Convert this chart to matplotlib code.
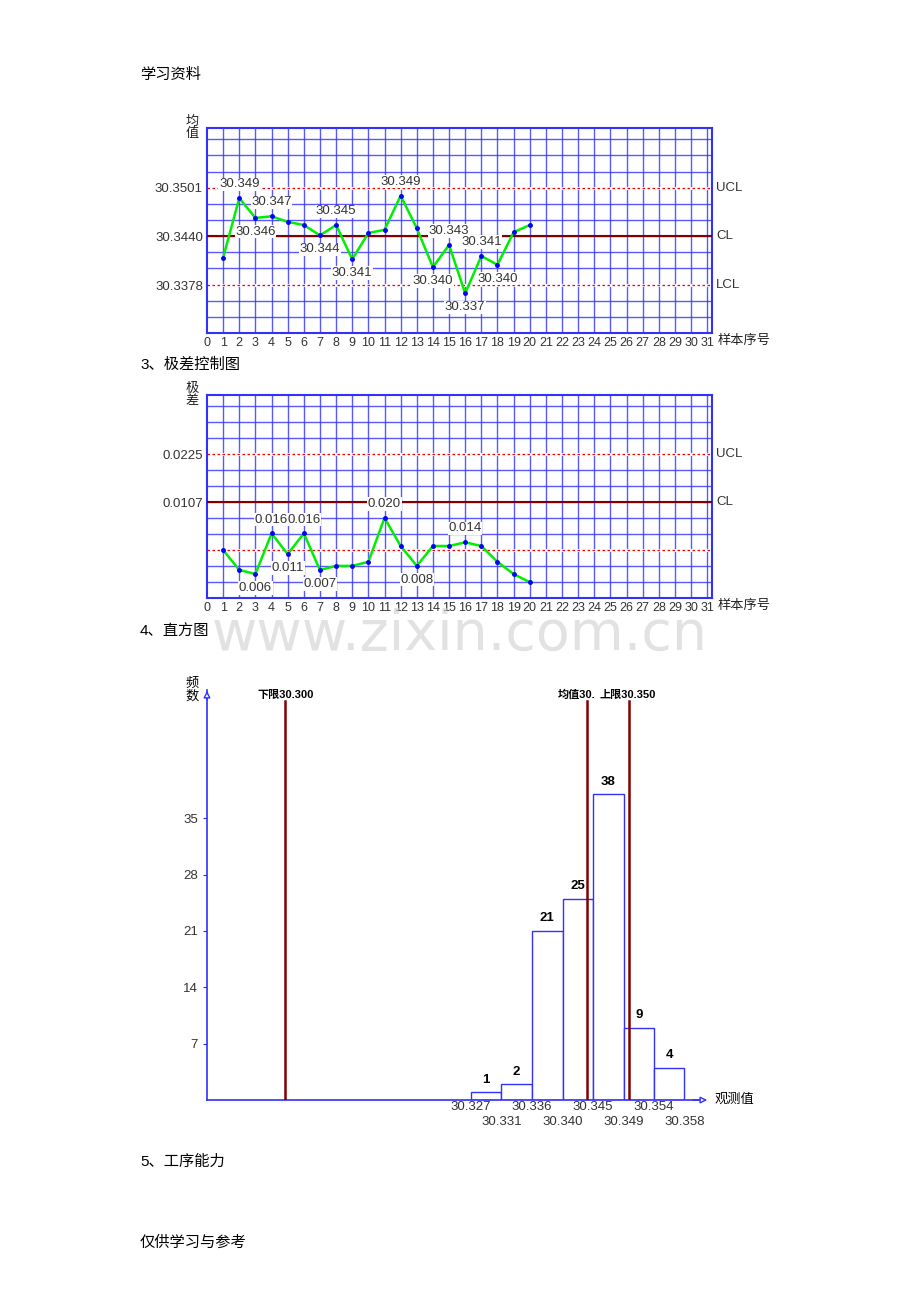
import matplotlib.pyplot as plt

plt.rcParams['font.family'] = ['Liberation Sans', 'Noto Sans CJK SC', 'DejaVu Sans']

# 均值控制图
xbar_ucl, xbar_cl, xbar_lcl = 30.3501, 30.3440, 30.3378
xbar = [30.3413, 30.3488, 30.3463, 30.3465, 30.3458, 30.3454, 30.3441, 30.3454, 30.3411, 30.3444,
        30.3448, 30.3491, 30.3450, 30.3401, 30.3429, 30.3368, 30.3415, 30.3404, 30.3445, 30.3454]
xbar_labels = {2: ('30.349', 1), 3: ('30.346', -1), 4: ('30.347', 1), 7: ('30.344', -1),
               8: ('30.345', 1), 9: ('30.341', -1), 12: ('30.349', 1), 14: ('30.340', -1),
               15: ('30.343', 1), 16: ('30.337', -1), 17: ('30.341', 1), 18: ('30.340', -1)}

# 极差控制图 (位置按图中坐标读取)
r_ucl, r_cl, r_lcl = 0.0225, 0.0107, -0.0011
r_vals = [-0.0011, -0.0060, -0.0070, 0.0030, -0.0021, 0.0030, -0.0060, -0.0050, -0.0050, -0.0040,
          0.0068, -0.0001, -0.0050, -0.0001, -0.0001, 0.0008, -0.0001, -0.0040, -0.0070, -0.0090]
r_labels = {3: ('0.006', -1), 4: ('0.016', 1), 5: ('0.011', -1), 6: ('0.016', 1),
            7: ('0.007', -1), 11: ('0.020', 1), 13: ('0.008', -1), 16: ('0.014', 1)}

# 直方图
edges = [30.327, 30.3314, 30.3358, 30.3403, 30.3447, 30.3492, 30.3536, 30.358]
edge_labels = ['30.327', '30.331', '30.336', '30.340', '30.345', '30.349', '30.354', '30.358']
counts = [1, 2, 21, 25, 38, 9, 4]
lower_limit, upper_limit, mean_val = 30.300, 30.350, 30.3439

BLUE = '#3030ff'
DARKRED = '#800000'

fig = plt.figure(figsize=(9.2, 13.02), dpi=100)


def control_chart(ax, vals, ucl, cl, lcl, labels, ytxt, ylab, show_lcl_label):
    step = (ucl - cl) / 3
    ax.set_xlim(0, 31.3)
    ax.set_ylim(cl - 6 * step, ucl + 3.7 * step)
    for k in range(-6, 10):
        ax.axhline(cl + k * step, color=BLUE, lw=1, alpha=0.8, zorder=1)
    for i in range(1, 32):
        ax.axvline(i, color=BLUE, lw=1, alpha=0.8, zorder=1)
    ax.axhline(ucl, color='white', lw=2, zorder=2)
    ax.axhline(ucl, color='red', lw=0.9, ls=(0, (2, 2)), zorder=3)
    ax.axhline(lcl, color='white', lw=2, zorder=2)
    ax.axhline(lcl, color='red', lw=0.9, ls=(0, (2, 2)), zorder=3)
    ax.axhline(cl, color=DARKRED, lw=1.5, zorder=3)
    xs = list(range(1, len(vals) + 1))
    ax.plot(xs, vals, color='#00ee00', lw=1.8, zorder=4)
    ax.plot(xs, vals, 'o', color='blue', ms=2.5, zorder=5)
    for i, (txt, d) in labels.items():
        ax.annotate(txt, (i, vals[i - 1]), xytext=(0, 10 * d), textcoords='offset points',
                    ha='center', va='center', fontsize=9.5, color='#333333', zorder=6,
                    bbox=dict(boxstyle='square,pad=0.05', fc='white', ec='none'))
    for s in ax.spines.values():
        s.set_color(BLUE)
        s.set_linewidth(1.5)
    ax.set_xticks(range(0, 32))
    ax.set_xticklabels([str(i) for i in range(0, 32)], fontsize=9, color='#333333')
    ax.tick_params(length=0, pad=3)
    ax.set_yticks(ytxt)
    ax.set_yticklabels([f'{v:.4f}' for v in ytxt], fontsize=9.5, color='#333333')
    names = [(ucl, 'UCL'), (cl, 'CL')] + ([(lcl, 'LCL')] if show_lcl_label else [])
    for v, n in names:
        ax.text(1.008, v, n, transform=ax.get_yaxis_transform(), va='center', fontsize=9.5, color='#333333')
    ax.text(1.01, -0.04, '样本序号', transform=ax.transAxes, va='center', fontsize=9.5, color='#222222')
    ax.text(-0.03, 1.0, ylab, transform=ax.transAxes, ha='center', va='center', fontsize=9.5,
            linespacing=1.0, color='#222222')


ax1 = fig.add_axes([0.225, 0.7442, 0.549, 0.1575])
control_chart(ax1, xbar, xbar_ucl, xbar_cl, xbar_lcl, xbar_labels,
              [xbar_lcl, xbar_cl, xbar_ucl], '均\n值', True)

ax2 = fig.add_axes([0.225, 0.5407, 0.549, 0.1559])
control_chart(ax2, r_vals, r_ucl, r_cl, r_lcl, r_labels, [r_cl, r_ucl], '极\n差', False)

# 直方图
ax3 = fig.add_axes([0.225, 0.1551, 0.536, 0.3149])
ax3.set_xlim(30.2886, 30.3603)
ax3.set_ylim(0, 50.9)
widths = [edges[i + 1] - edges[i] for i in range(len(counts))]
ax3.bar(edges[:-1], counts, width=widths, align='edge', fc='white', ec=BLUE, lw=1, zorder=2)
for x0, w, c in zip(edges[:-1], widths, counts):
    ax3.text(x0 + w / 2, c + 0.8, str(c), ha='center', va='bottom', fontsize=9.5, fontweight='bold')
for v in (lower_limit, mean_val, upper_limit):
    ax3.axvline(v, ymax=49.5 / 50.9, color=DARKRED, lw=1.8, zorder=3)
ax3.text(lower_limit, 50.3, '下限30.300', ha='center', va='center', fontsize=8, fontweight='bold')
ax3.text(mean_val + 0.0012, 50.3, '均值30.', ha='right', va='center', fontsize=8, fontweight='bold')
ax3.text(upper_limit - 0.0003, 50.3, '上限30.350', ha='center', va='center', fontsize=8, fontweight='bold')
for s in ('top', 'right'):
    ax3.spines[s].set_visible(False)
for s in ('left', 'bottom'):
    ax3.spines[s].set_color(BLUE)
    ax3.spines[s].set_linewidth(1.2)
ax3.set_yticks([7, 14, 21, 28, 35])
ax3.tick_params(axis='y', length=3, color=BLUE, labelsize=9.5, labelcolor='#333333')
ax3.set_xticks(edges)
ax3.set_xticklabels([('' if i % 2 == 0 else '\n') + t for i, t in enumerate(edge_labels)],
                    fontsize=9.5, color='#333333', linespacing=1.3)
ax3.tick_params(axis='x', length=0, pad=1)
ax3.annotate('', xy=(1.02, 0), xytext=(0.98, 0), xycoords='axes fraction',
             arrowprops=dict(arrowstyle='-|>', color=BLUE, lw=1, fc='white'))
ax3.annotate('', xy=(0, 1.005), xytext=(0, 0.97), xycoords='axes fraction',
             arrowprops=dict(arrowstyle='-|>', color=BLUE, lw=1, fc='white'))
ax3.text(1.03, 0, '观测值', transform=ax3.transAxes, va='center', fontsize=9.5)
ax3.text(-0.03, 1.0, '频\n数', transform=ax3.transAxes, ha='center', va='center', fontsize=9.5,
         linespacing=1.0)

# 页面文字
for y, t in [(75, '学习资料'), (365, '3、极差控制图'), (632, '4、直方图'),
             (1162, '5、工序能力'), (1243, '仅供学习与参考')]:
    fig.text(140 / 920, 1 - y / 1302, t, fontsize=11, va='center')
fig.text(460 / 920, 1 - 635 / 1302, 'www.zixin.com.cn', fontsize=40, color='#d0d0d0',
         ha='center', va='center', family='DejaVu Sans', alpha=0.6)

fig.savefig('out.png', dpi=100)
